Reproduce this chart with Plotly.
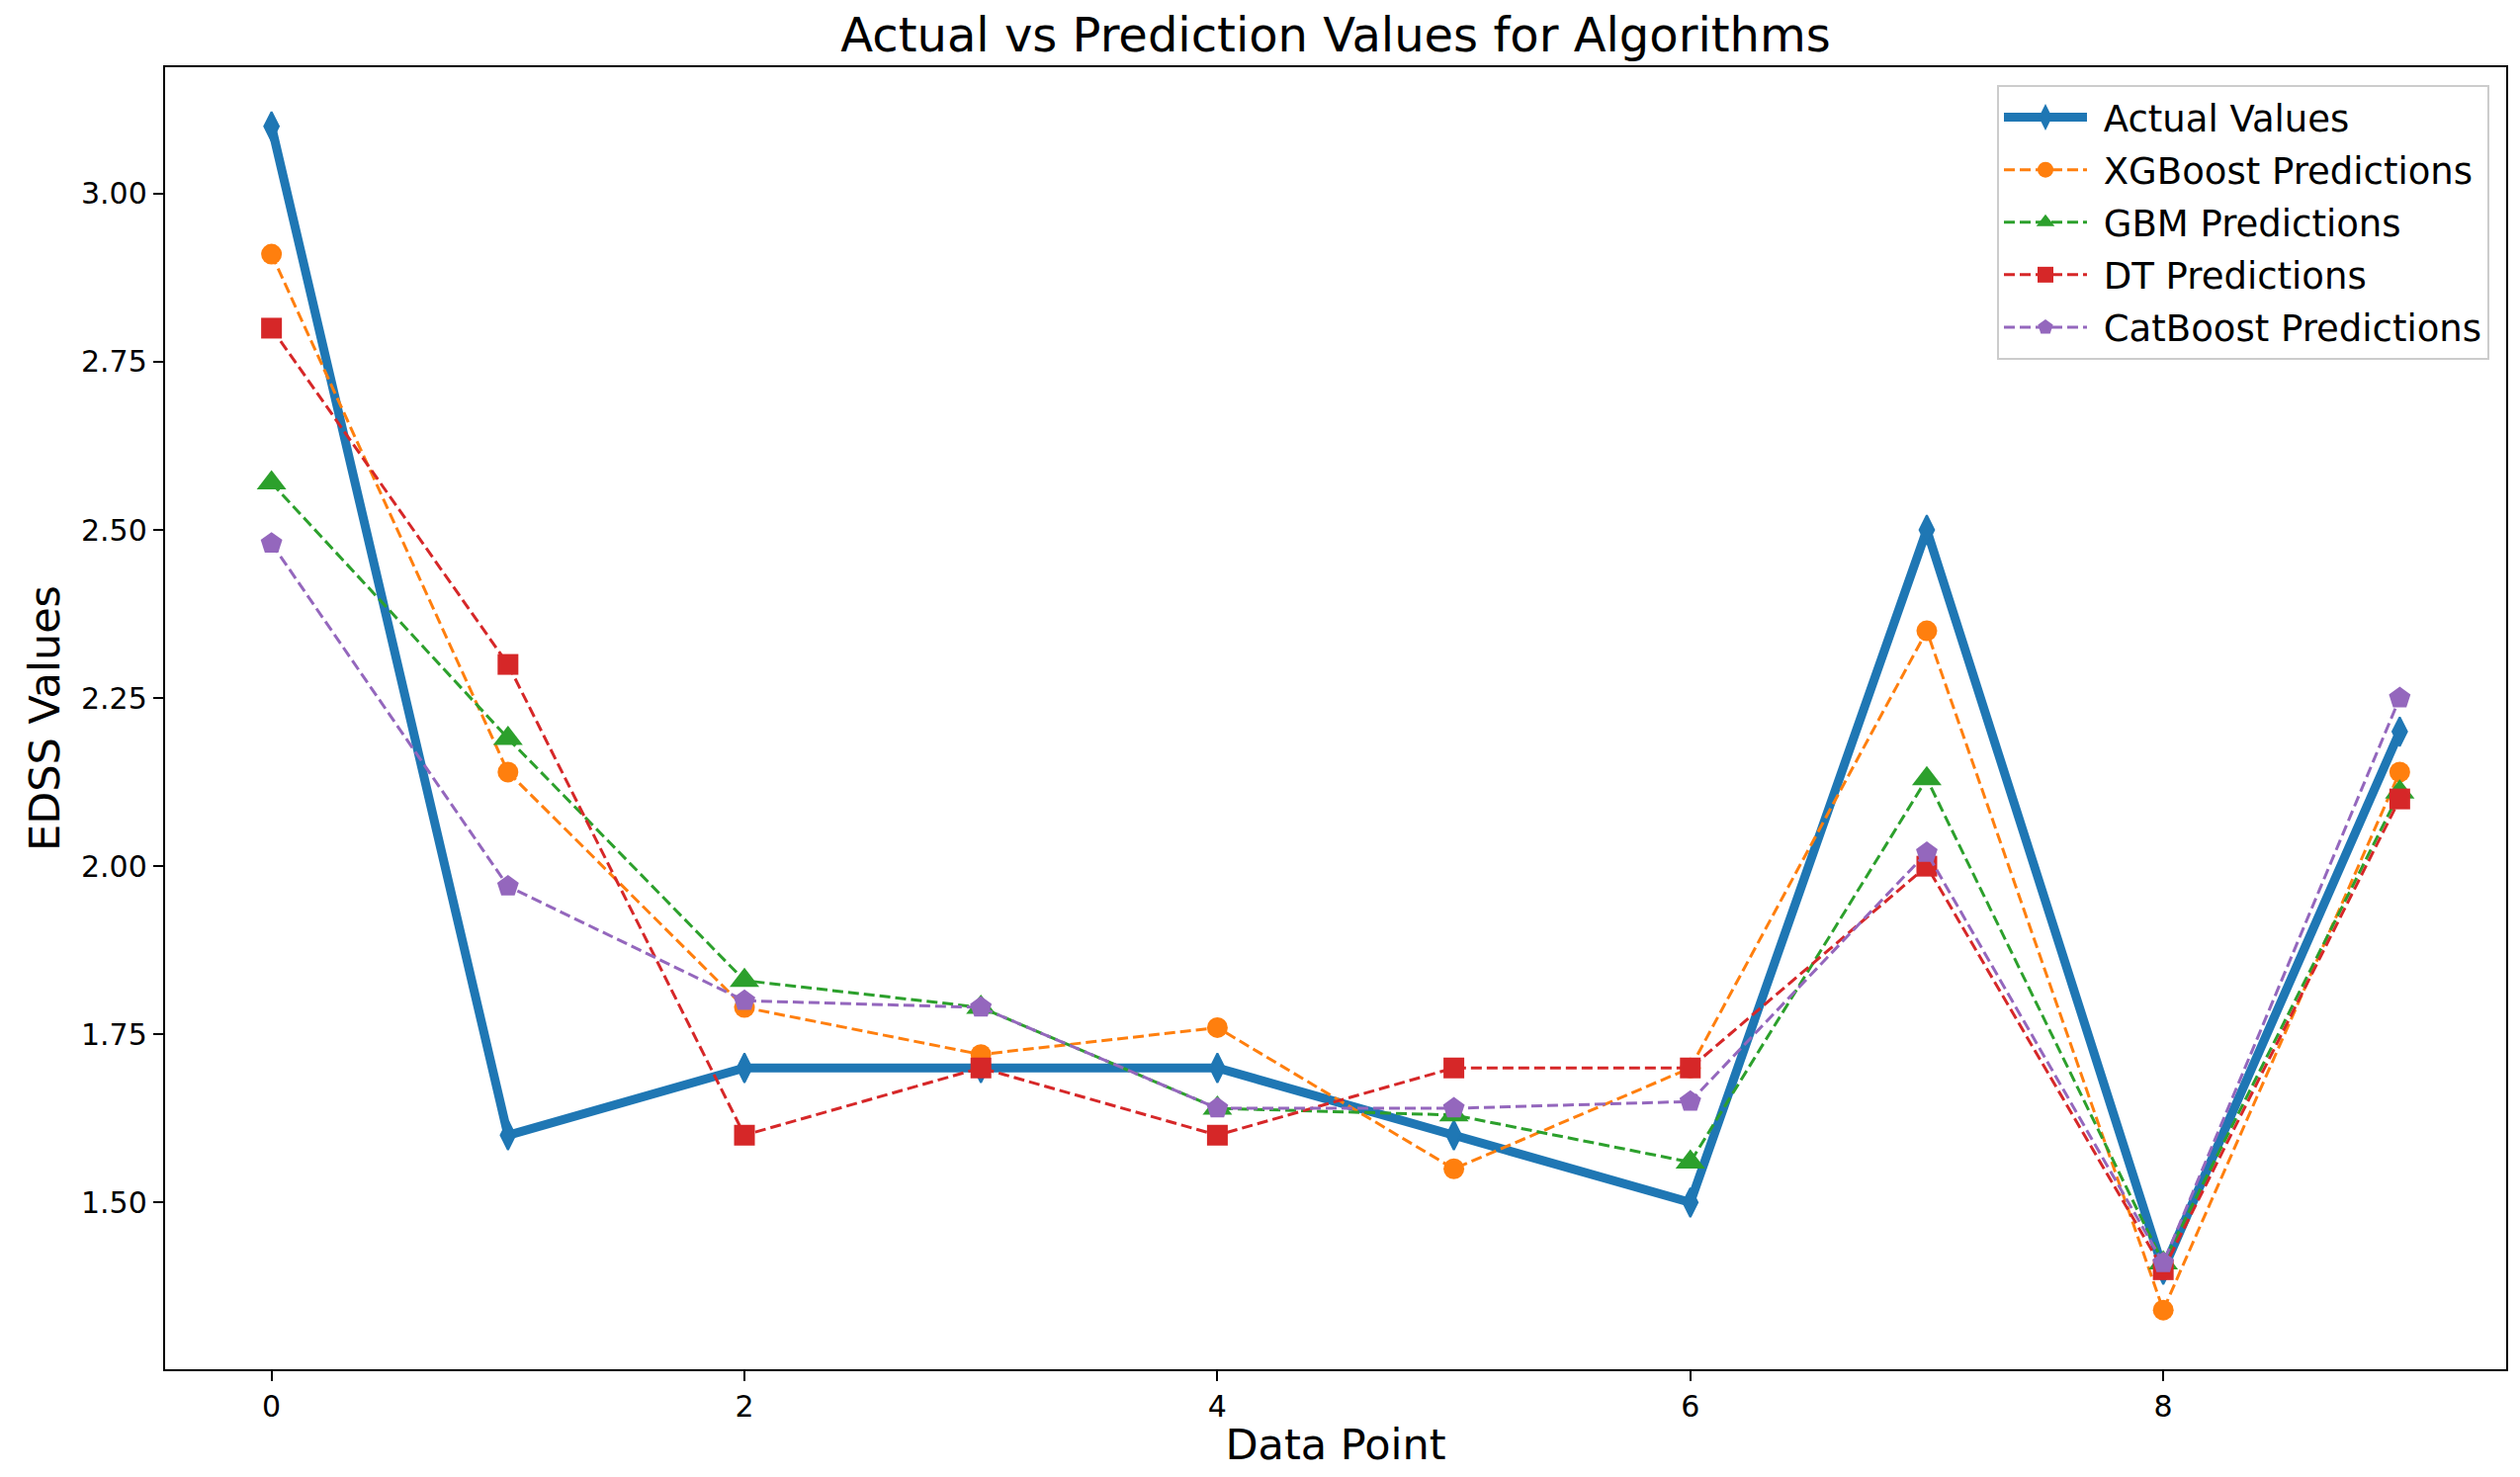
import plotly.graph_objects as go

x_points = list(range(10))
actual = [3.10, 1.60, 1.70, 1.70, 1.70, 1.60, 1.50, 2.50, 1.40, 2.20]
xgboost = [2.91, 2.14, 1.79, 1.72, 1.76, 1.55, 1.70, 2.35, 1.34, 2.14]
gbm = [2.57, 2.19, 1.83, 1.79, 1.64, 1.63, 1.56, 2.13, 1.41, 2.11]
dt = [2.80, 2.30, 1.60, 1.70, 1.60, 1.70, 1.70, 2.00, 1.40, 2.10]
catboost = [2.48, 1.97, 1.80, 1.79, 1.64, 1.64, 1.65, 2.02, 1.41, 2.25]

x_ticks = [0, 2, 4, 6, 8]
y_ticks = [1.50, 1.75, 2.00, 2.25, 2.50, 2.75, 3.00]

# page body has an 8px margin; figure sized to fit window
OFF = 8
W, H = 2549 - 2 * OFF, 1494 - 2 * OFF
# plot area in page coords (reference): left 167, right 2535, top 68, bottom 1385
L = 167 - OFF
T = 68 - OFF
R = W - (2535 - OFF)
B = H - (1385 - OFF)
FONT = "DejaVu Sans"
NB = "\u00a0"

fig = go.Figure()

fig.add_trace(go.Scatter(
    x=x_points, y=actual, mode="lines+markers", name=NB + "Actual Values",
    line=dict(color="#1f77b4", width=9),
    marker=dict(symbol="diamond-tall", size=21, color="#1f77b4",
                line=dict(color="#1f77b4", width=2)),
    legendgroup="a",
))

pred_series = [
    ("XGBoost Predictions", xgboost, "#ff7f0e", "circle", 21),
    ("GBM Predictions", gbm, "#2ca02c", "triangle-up", 26),
    ("DT Predictions", dt, "#d62728", "square", 21),
    ("CatBoost Predictions", catboost, "#9467bd", "pentagon", 23),
]
for i, (name, vals, col, sym, sz) in enumerate(pred_series):
    fig.add_trace(go.Scatter(
        x=x_points, y=vals, mode="lines+markers", name=NB + name,
        line=dict(color=col, width=3, dash="11px,5px"),
        marker=dict(symbol=sym, size=sz, color=col),
        legendgroup=f"g{i}",
    ))

axis_common = dict(
    showline=True, linecolor="black", linewidth=2.4, mirror=True,
    ticks="outside", ticklen=10, tickwidth=2.4, tickcolor="black",
    showgrid=False, zeroline=False,
    tickfont=dict(family=FONT, size=30, color="black"),
)

fig.update_layout(
    width=W, height=H,
    margin=dict(l=L, r=R, t=T, b=B, autoexpand=False),
    paper_bgcolor="white", plot_bgcolor="white",
    font=dict(family=FONT, color="black"),
    title=dict(text="Actual vs Prediction Values for Algorithms",
               font=dict(family=FONT, size=48, color="black"),
               x=0.5, xref="paper", xanchor="center",
               y=1 - (35 - OFF) / H, yref="container", yanchor="middle"),
    xaxis=dict(range=[-0.45, 9.45], tickvals=x_ticks, ticktext=[str(v) for v in x_ticks],
               title=dict(text="Data Point", font=dict(family=FONT, size=43, color="black"), standoff=23),
               **axis_common),
    yaxis=dict(range=[1.252, 3.188], tickvals=y_ticks, ticktext=[f"{v:.2f}" for v in y_ticks],
               title=dict(text="EDSS Values", font=dict(family=FONT, size=43, color="black"), standoff=8),
               **axis_common),
    legend=dict(
        x=(2518 - 167) / (2535 - 167), y=1 - (86 - 68) / (1385 - 68),
        xanchor="right", yanchor="top",
        bgcolor="rgba(255,255,255,0.8)", bordercolor="#cccccc", borderwidth=2,
        font=dict(family=FONT, size=37, color="black"),
        itemwidth=84, tracegroupgap=2,
        entrywidth=418, entrywidthmode="pixels",
    ),
    showlegend=True,
)

fig.write_html("out.html")
